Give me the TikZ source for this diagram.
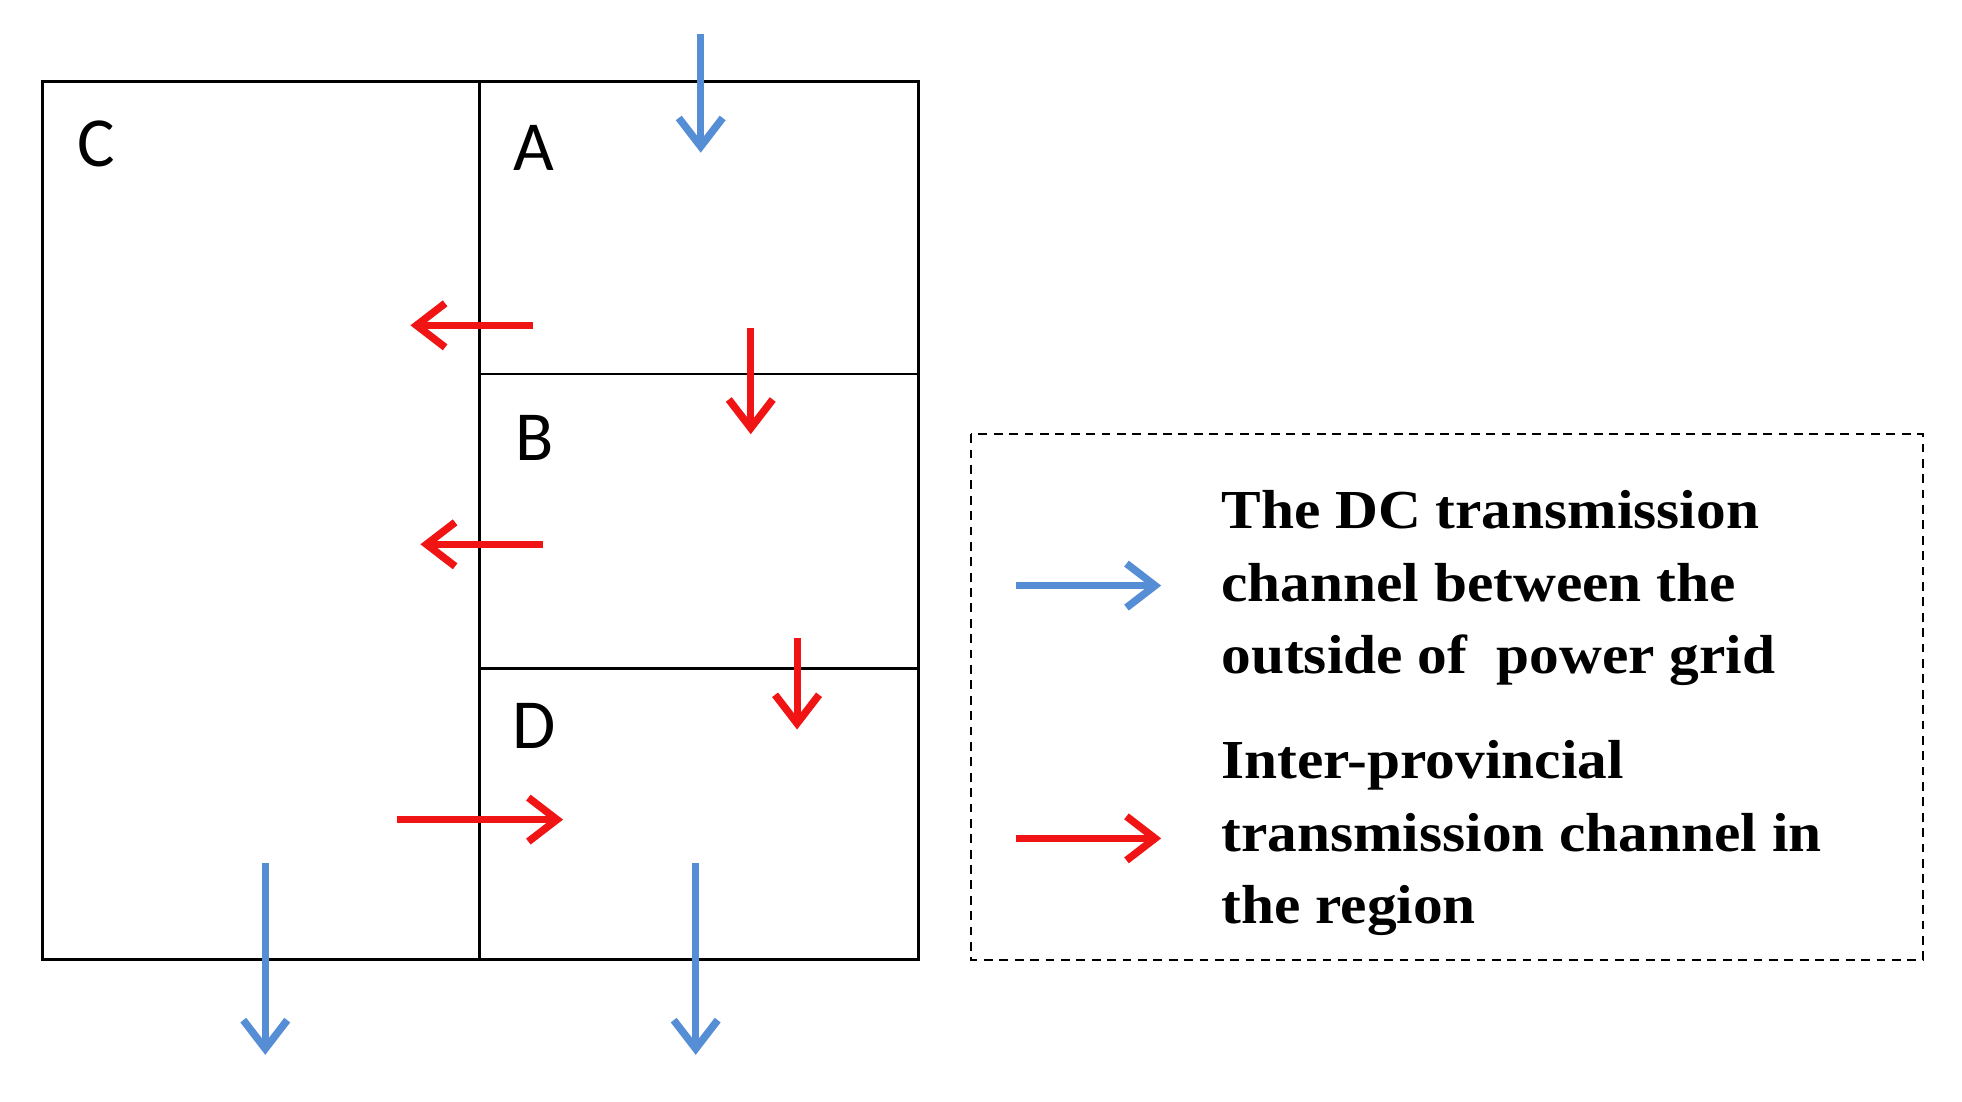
\documentclass[tikz,border=0pt]{standalone}
\usepackage{fontspec}
\setmainfont{Liberation Serif}[FakeStretch=1.08]
\newfontfamily\lab{Carlito}
\usetikzlibrary{arrows.meta}
\definecolor{bl}{RGB}{85,142,213}
\definecolor{rd}{RGB}{240,20,20}
\begin{document}
\begin{tikzpicture}[x=0.02cm,y=-0.02cm,
  box/.style={line width=1.2pt},
  arr/.style={line width=3.2pt,-{Straight Barb[length=13pt,width=20pt,line width=3.4pt]}},
  blu/.style={arr,bl},
  red/.style={arr,rd},
  lbl/.style={font=\lab\fontsize{32}{36}\selectfont,anchor=center},
  leg/.style={font=\bfseries\fontsize{25}{33}\selectfont,align=left,anchor=west}]
\useasboundingbox (0,0) rectangle (1568,880);
\draw[box] (34,65) rectangle (734,767);
\draw[box] (383,65) -- (383,767);
\draw[box] (383,299) -- (734,299);
\draw[box] (383,534) -- (734,534);
\node[lbl] (c) at (77,115) {C};
\node[lbl] (a) at (427,118) {A};
\node[lbl] (b) at (427,350) {B};
\node[lbl] (d) at (427,580) {D};
\coordinate (b1s) at (560,27); \coordinate (b1e) at (560,122);
\coordinate (b2s) at (212,690); \coordinate (b2e) at (212,843);
\coordinate (b3s) at (556,690); \coordinate (b3e) at (556,843);
\draw[blu] (b1s) -- (b1e);
\draw[blu] (b2s) -- (b2e);
\draw[blu] (b3s) -- (b3e);
\coordinate (r1s) at (426,260); \coordinate (r1e) at (328,260);
\coordinate (r2s) at (600,262); \coordinate (r2e) at (600,347);
\coordinate (r3s) at (434,435); \coordinate (r3e) at (336,435);
\coordinate (r4s) at (637,510); \coordinate (r4e) at (637,583);
\coordinate (r5s) at (317,655); \coordinate (r5e) at (450,655);
\draw[red] (r1s) -- (r1e);
\draw[red] (r2s) -- (r2e);
\draw[red] (r3s) -- (r3e);
\draw[red] (r4s) -- (r4e);
\draw[red] (r5s) -- (r5e);
\draw[box,line width=1pt,dash pattern=on 4pt off 3pt] (776,347) rectangle (1537,767);
\coordinate (l1s) at (812,468); \coordinate (l1e) at (928,468);
\coordinate (l2s) at (812,670); \coordinate (l2e) at (928,670);
\draw[blu] (l1s) -- (l1e);
\draw[red] (l2s) -- (l2e);
\node[leg] (t1) at (970,470) {The DC transmission\\channel between the\\outside of\ \ power grid};
\node[leg] (t2) at (970,670) {Inter-provincial\\transmission channel in\\the region};
\end{tikzpicture}
\end{document}
